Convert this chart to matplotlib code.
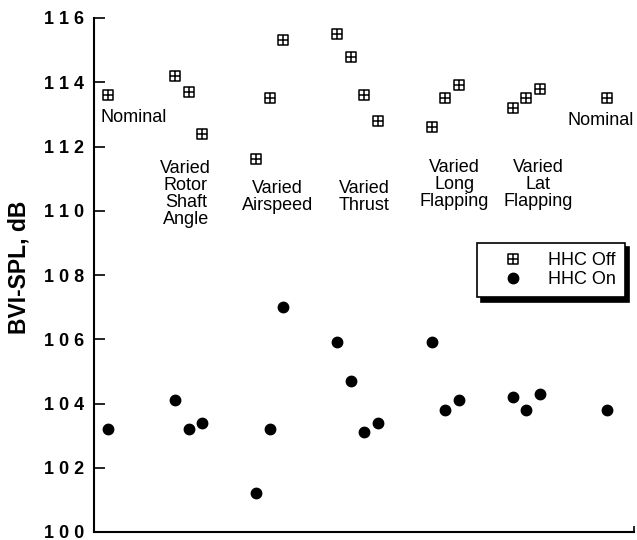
import matplotlib
matplotlib.use("Agg")
import matplotlib.pyplot as plt
from matplotlib.path import Path

plt.rcParams['font.family'] = ['Liberation Sans', 'DejaVu Sans']

# ---- data ----
off_x = [1, 6, 7, 8, 12, 13, 14, 18, 19, 20, 21, 25, 26, 27, 31, 32, 33, 38]
off_y = [113.6, 114.2, 113.7, 112.4, 111.6, 113.5, 115.3, 115.5, 114.8, 113.6,
         112.8, 112.6, 113.5, 113.9, 113.2, 113.5, 113.8, 113.5]
on_x = [1, 6, 7, 8, 12, 13, 14, 18, 19, 20, 21, 25, 26, 27, 31, 32, 33, 38]
on_y = [103.2, 104.1, 103.2, 103.4, 101.2, 103.2, 107.0, 105.9, 104.7, 103.1,
        103.4, 105.9, 103.8, 104.1, 104.2, 103.8, 104.3, 103.8]

group_labels = ["Varied\nRotor\nShaft\nAngle", "Varied\nAirspeed", "Varied\nThrust",
                "Varied\nLong\nFlapping", "Varied\nLat\nFlapping"]
group_label_x = [6.8, 13.6, 20.0, 26.7, 32.9]
group_label_y = [110.52, 110.42, 110.42, 110.82, 110.82]
nominal_labels = ["Nominal", "Nominal"]
nominal_x = [0.45, 35.1]
nominal_y = [112.9, 112.8]

yticks = [100, 102, 104, 106, 108, 110, 112, 114, 116]
ytick_labels = ["1 0 0", "1 0 2", "1 0 4", "1 0 6", "1 0 8", "1 1 0", "1 1 2", "1 1 4", "1 1 6"]
ylabel = "BVI-SPL, dB"
legend_labels = ["HHC Off", "HHC On"]

# ---- marker: square with a cross ----
sq_verts = [(-1, -1), (1, -1), (1, 1), (-1, 1), (-1, -1),
            (0, -1), (0, 1), (-1, 0), (1, 0)]
sq_codes = [Path.MOVETO, Path.LINETO, Path.LINETO, Path.LINETO, Path.CLOSEPOLY,
            Path.MOVETO, Path.LINETO, Path.MOVETO, Path.LINETO]
sq_marker = Path(sq_verts, sq_codes)

fig = plt.figure(figsize=(6.37, 5.40), dpi=100)
ax = fig.add_axes([94/637, 1-532/540, 540/637, 514/540])

ax.plot(off_x, off_y, linestyle='none', marker=sq_marker, markersize=7,
        markerfacecolor='none', markeredgecolor='black', markeredgewidth=1.1,
        label=legend_labels[0])
ax.plot(on_x, on_y, linestyle='none', marker='o', markersize=7.5,
        markerfacecolor='black', markeredgecolor='black', label=legend_labels[1])

for t, x, y in zip(group_labels, group_label_x, group_label_y):
    ax.text(x, y, t, ha='center', va='center', fontsize=13, linespacing=1.0)
for t, x, y in zip(nominal_labels, nominal_x, nominal_y):
    ax.text(x, y, t, ha='left', va='center', fontsize=13, clip_on=False)

ax.set_xlim(0, 40)
ax.set_ylim(100, 116)
ax.set_yticks(yticks)
ax.set_yticklabels(ytick_labels, fontsize=13, fontweight='bold')
ax.set_xticks([40])
ax.set_xticklabels([])
ax.tick_params(axis='y', direction='in', length=8, width=1.2, pad=7)
ax.tick_params(axis='x', direction='in', length=4, width=1.2)
ax.spines['top'].set_visible(False)
ax.spines['right'].set_visible(False)
ax.spines['left'].set_linewidth(1.5)
ax.spines['bottom'].set_linewidth(1.5)
ax.set_ylabel(ylabel, fontsize=16.5, fontweight='bold')
ax.yaxis.set_label_coords(-0.118, 0.515)

leg = ax.legend(loc='upper left', bbox_to_anchor=(0.709, 0.562), fontsize=13,
                frameon=True, fancybox=False, framealpha=1, edgecolor='black',
                shadow={'color': 'black', 'alpha': 1.0, 'ox': 3, 'oy': -3},
                handletextpad=0.45, borderpad=0.5, labelspacing=0.12,
                handlelength=3.0, borderaxespad=0)
leg.get_frame().set_linewidth(1.2)

fig.savefig("out.png", dpi=100)
